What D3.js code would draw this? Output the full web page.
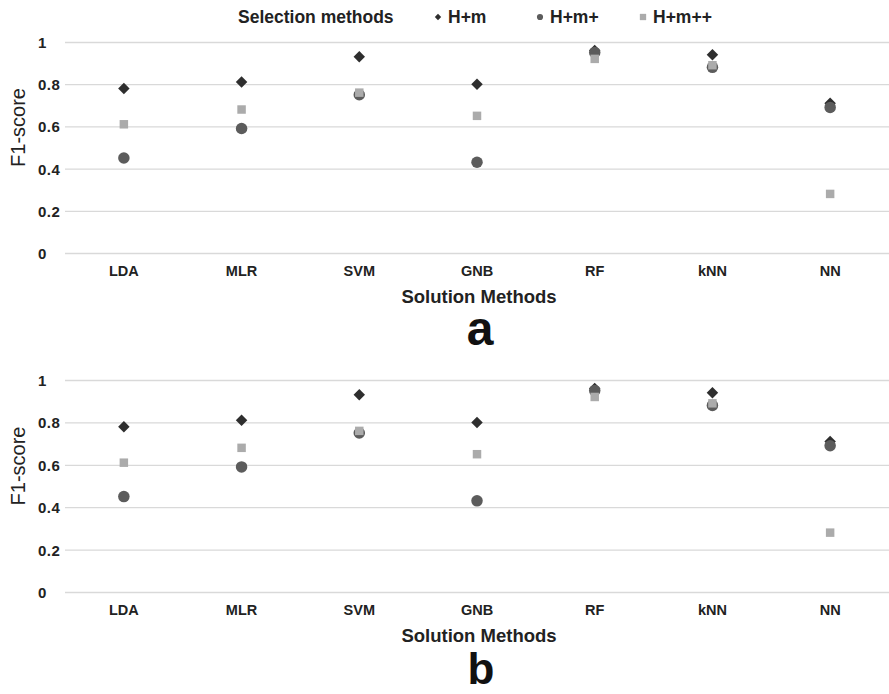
<!DOCTYPE html>
<html>
<head>
<meta charset="utf-8">
<script src="https://cdn.jsdelivr.net/npm/d3@7"></script>
<style>
  html, body { margin: 0; padding: 0; background: #fff; }
  svg { display: block; font-family: "Liberation Sans", Arial, sans-serif; }
</style>
</head>
<body>
<svg id="chart" width="889" height="694"></svg>
<script>
// ---- data ----
const categories = ["LDA", "MLR", "SVM", "GNB", "RF", "kNN", "NN"];
const seriesNames = ["H+m", "H+m+", "H+m++"];
const hm   = [0.78, 0.81, 0.93, 0.80, 0.96, 0.94, 0.71];
const hmp  = [0.45, 0.59, 0.75, 0.43, 0.95, 0.88, 0.69];
const hmpp = [0.61, 0.68, 0.76, 0.65, 0.92, 0.89, 0.28];
const yTicks = [0, 0.2, 0.4, 0.6, 0.8, 1];
const panelLabels = ["a", "b"];
const xTitle = "Solution Methods";
const yTitle = "F1-score";
const legendTitle = "Selection methods";

const seriesValues = [hm, hmp, hmpp];
const seriesStyle = [
  { shape: "diamond", color: "#2e2e2e" },
  { shape: "circle",  color: "#5c5c5c" },
  { shape: "square",  color: "#ababab" }
];

const svg = d3.select("#chart");

const x = d3.scaleBand().domain(categories).range([65, 889]).paddingInner(0).paddingOuter(0);

function markerPath(shape, big) {
  if (shape === "diamond") return d3.symbol(d3.symbolDiamond2 || d3.symbolDiamond, big ? 84 : 26)();
  if (shape === "circle") return d3.symbol(d3.symbolCircle, big ? 104 : 30)();
  return d3.symbol(d3.symbolSquare, big ? 72 : 40)();
}

function drawPanel(yTop, yBottom) {
  const y = d3.scaleLinear().domain([0, 1]).range([yBottom, yTop]);
  const g = svg.append("g");

  // gridlines + y tick labels
  const yAxis = d3.axisLeft(y).tickValues(yTicks)
    .tickSize(-(x.range()[1] - x.range()[0]))
    .tickFormat(d => d3.format("~g")(d));
  const ya = g.append("g").attr("transform", `translate(${x.range()[0]},0)`).call(yAxis);
  ya.select(".domain").remove();
  ya.selectAll(".tick line").attr("stroke", "#d9d9d9").attr("stroke-width", 1.3);
  ya.selectAll(".tick text")
    .attr("x", 38 - x.range()[0]).attr("text-anchor", "start")
    .attr("dy", "0.36em")
    .style("font-size", "15px").style("font-weight", "bold").attr("fill", "#222")
    .style("letter-spacing", "0.5px");

  // x axis labels
  const xAxis = d3.axisBottom(x).tickSize(0).tickPadding(0);
  const xa = g.append("g").attr("transform", `translate(0,${yBottom})`).call(xAxis);
  xa.select(".domain").remove();
  xa.selectAll(".tick text")
    .attr("y", 18).attr("dy", "0.36em")
    .style("font-size", "14.5px").style("font-weight", "bold").attr("fill", "#222");

  // y title
  g.append("text")
    .attr("transform", `translate(25,${(yTop + yBottom) / 2 - 20}) rotate(-90)`)
    .attr("text-anchor", "middle")
    .style("font-size", "20px").attr("fill", "#222")
    .text(yTitle);

  // x title
  g.append("text")
    .attr("x", 479).attr("y", yBottom + 50)
    .attr("text-anchor", "middle")
    .style("font-size", "18.5px").style("font-weight", "bold").attr("fill", "#222")
    .text(xTitle);

  // markers
  seriesValues.forEach((vals, si) => {
    const st = seriesStyle[si];
    g.append("g").selectAll("path").data(vals).join("path")
      .attr("d", markerPath(st.shape, true))
      .attr("transform", (d, i) => `translate(${x(categories[i]) + x.bandwidth() / 2},${y(d)})`)
      .attr("fill", st.color);
  });
  return g;
}

drawPanel(42, 253);
drawPanel(380, 592);

// panel letters
svg.append("text").attr("x", 480).attr("y", 345).attr("text-anchor", "middle")
  .style("font-size", "48px").style("font-weight", "bold").attr("fill", "#111").text(panelLabels[0]);
svg.append("text").attr("x", 481).attr("y", 684).attr("text-anchor", "middle")
  .style("font-size", "44px").style("font-weight", "bold").attr("fill", "#111").text(panelLabels[1]);

// legend
const lg = svg.append("g");
lg.append("text").attr("x", 238).attr("y", 23)
  .style("font-size", "17.5px").style("font-weight", "bold").attr("fill", "#222").text(legendTitle);
const legendX = [438, 540, 643];
seriesNames.forEach((name, i) => {
  lg.append("path").attr("d", markerPath(seriesStyle[i].shape, false))
    .attr("transform", `translate(${legendX[i]},17)`).attr("fill", seriesStyle[i].color);
  lg.append("text").attr("x", legendX[i] + 10).attr("y", 23)
    .style("font-size", "17.5px").style("font-weight", "bold").attr("fill", "#222").text(name);
});
</script>
</body>
</html>
